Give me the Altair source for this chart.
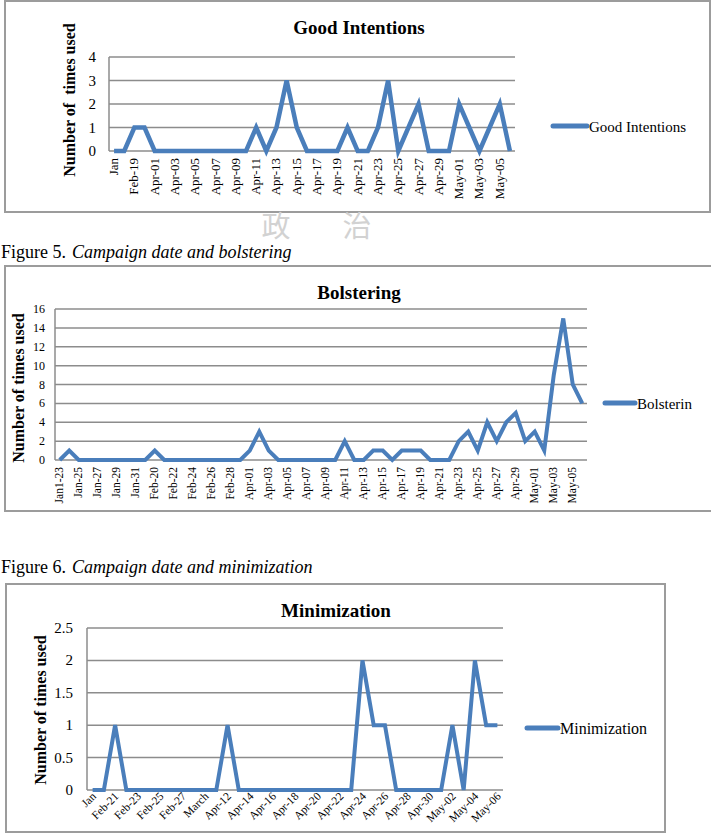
import altair as alt
import pandas as pd

# ---------------- data ----------------
gi_dates = (["Jan", "Feb-18", "Feb-19", "March"]
            + [f"Apr-{d:02d}" for d in range(1, 31)]
            + [f"May-{d:02d}" for d in range(1, 7)])
gi_counts = [0, 0, 1, 1, 0, 0, 0, 0, 0, 0,
             0, 0, 0, 0, 1, 0, 1, 3, 1, 0,
             0, 0, 0, 1, 0, 0, 1, 3, 0, 1,
             2, 0, 0, 0, 2, 1, 0, 1, 2, 0]
gi_ticks = [0, 1, 2, 3, 4]
gi_tick_text = ["0", "1", "2", "3", "4"]

bo_dates = (["Jan1-23"] + [f"Jan-{d}" for d in range(24, 32)]
            + [f"Feb-{d}" for d in range(19, 29)] + ["March"]
            + [f"Apr-{d:02d}" for d in range(1, 31)]
            + [f"May-{d:02d}" for d in range(1, 7)])
bo_counts = [0, 1, 0, 0, 0, 0, 0, 0, 0, 0,
             1, 0, 0, 0, 0, 0, 0, 0, 0, 0,
             1, 3, 1, 0, 0, 0, 0, 0, 0, 0,
             2, 0, 0, 1, 1, 0, 1, 1, 1, 0,
             0, 0, 2, 3, 1, 4, 2, 4, 5, 2,
             3, 1, 9, 15, 8, 6]
bo_ticks = [0, 2, 4, 6, 8, 10, 12, 14, 16]
bo_tick_text = ["0", "2", "4", "6", "8", "10", "12", "14", "16"]

mi_dates = (["Jan"] + [f"Feb-{d}" for d in range(20, 29)] + ["March"]
            + [f"Apr-{d:02d}" for d in range(11, 31)]
            + [f"May-{d:02d}" for d in range(1, 7)])
mi_counts = [0, 0, 1, 0, 0, 0, 0, 0, 0, 0,
             0, 0, 1, 0, 0, 0, 0, 0, 0, 0,
             0, 0, 0, 0, 2, 1, 1, 0, 0, 0,
             0, 0, 1, 0, 2, 1, 1]
mi_ticks = [0, 0.5, 1, 1.5, 2, 2.5]
mi_tick_text = ["0", "0.5", "1", "1.5", "2", "2.5"]

# ---------------- styling ----------------
FONT = "Liberation Serif"
BLUE = "#4a7ebb"
GRID = "#8c8c8c"
FRAME = "#9c9c9c"
one = pd.DataFrame({"k": [0]})


def text_at(txt, x, y, size, **kw):
    opts = dict(font=FONT, fontSize=size, color="black", align="center", baseline="middle")
    opts.update(kw)
    return alt.Chart(one).mark_text(text=txt, **opts).encode(x=alt.value(x), y=alt.value(y))


def panel(title, series, cats, vals, ticks, tick_text, lay):
    L, R, T, B = lay["plot"]
    xs = alt.Scale(domain=cats, range=[L, R])
    ys = alt.Scale(domain=[ticks[0], ticks[-1]], range=[B, T], nice=False, zero=False)
    line_df = pd.DataFrame({"date": cats, "n": vals})
    tick_df = pd.DataFrame({"v": ticks, "lab": tick_text})
    lab_df = pd.DataFrame({"date": cats[::2]})

    bx0, bx1, by0, by1 = lay["box"]
    frame = alt.Chart(one).mark_rect(fillOpacity=0, stroke=FRAME, strokeWidth=2).encode(
        x=alt.value(bx0), x2=alt.value(bx1), y=alt.value(by0), y2=alt.value(by1))

    grid = alt.Chart(tick_df).mark_rule(color=GRID, strokeWidth=1.5).encode(
        y=alt.Y("v:Q", scale=ys, axis=None), x=alt.value(L), x2=alt.value(R))
    yline = alt.Chart(one).mark_rule(color=GRID, strokeWidth=1.5).encode(
        x=alt.value(L), y=alt.value(T), y2=alt.value(B))
    ylab = alt.Chart(tick_df).mark_text(
        align="right", baseline="middle", font=FONT, fontSize=lay["ytick_size"], color="black"
    ).encode(y=alt.Y("v:Q", scale=ys, axis=None), x=alt.value(lay["ytick_x"]), text="lab:N")

    line = alt.Chart(line_df).mark_line(color=BLUE, strokeWidth=lay["lw"]).encode(
        x=alt.X("date:N", scale=xs, axis=None),
        y=alt.Y("n:Q", scale=ys, axis=None))

    xlab = alt.Chart(lab_df).mark_text(
        angle=lay["xangle"], align="right", baseline="middle", font=FONT,
        fontSize=lay["xtick_size"], color="black", dx=lay.get("xdx", 0)
    ).encode(x=alt.X("date:N", scale=xs, axis=None), y=alt.value(lay["xtick_y"]), text="date:N")

    tx, ty = lay["ytitle"]
    ytitle = text_at(lay["ytitle_text"], tx, ty, 16, fontWeight="bold", angle=270)
    cx, cy = lay["title"]
    ttl = text_at(title, cx, cy, 19, fontWeight="bold")

    lx0, lx1, ly = lay["legend"]
    leg_line = alt.Chart(one).mark_rule(color=BLUE, strokeWidth=5, strokeCap="round").encode(
        x=alt.value(lx0), x2=alt.value(lx1), y=alt.value(ly))
    leg_text = text_at(series, lx1 + 2, ly + 1, lay["legend_size"], align="left")

    return alt.layer(frame, grid, yline, ylab, line, xlab, ytitle, ttl, leg_line, leg_text)


p1 = panel("Good Intentions", "Good Intentions", gi_dates, gi_counts, gi_ticks, gi_tick_text, dict(
    plot=(109, 515, 57, 151), box=(5, 710, 1, 212), ytick_size=15, ytick_x=96,
    xtick_size=13, xtick_y=158, xangle=270, lw=4.5,
    ytitle=(70, 100), ytitle_text="Number of\u00a0 times used",
    title=(359, 28), legend=(553, 587, 126), legend_size=15))

p2 = panel("Bolstering", "Bolsterin", bo_dates, bo_counts, bo_ticks, bo_tick_text, dict(
    plot=(55, 587, 309, 460), box=(5, 712, 266, 511), ytick_size=12, ytick_x=45,
    xtick_size=11.5, xtick_y=467, xangle=270, lw=4,
    ytitle=(19, 388), ytitle_text="Number of times used",
    title=(359, 293), legend=(605, 635, 403), legend_size=15))

p3 = panel("Minimization", "Minimization", mi_dates, mi_counts, mi_ticks, mi_tick_text, dict(
    plot=(87, 503, 628, 790), box=(6, 665, 584, 832), ytick_size=15, ytick_x=73,
    xtick_size=11.5, xtick_y=797, xangle=315, xdx=3, lw=4,
    ytitle=(41, 710), ytitle_text="Number of times used",
    title=(336, 611), legend=(527, 558, 728), legend_size=16))

captions = alt.layer(
    text_at("Figure 5.", 1, 258, 18, align="left", baseline="alphabetic"),
    text_at("Campaign date and bolstering", 72, 258, 18, align="left",
            baseline="alphabetic", fontStyle="italic"),
    text_at("Figure 6.", 1, 573, 18, align="left", baseline="alphabetic"),
    text_at("Campaign date and minimization", 72, 573, 18, align="left",
            baseline="alphabetic", fontStyle="italic"),
)

# faint university seal printed over the page
seal = alt.layer(
    text_at("政", 276, 228, 29, font="Noto Sans CJK TC", color="#d2d2d2"),
    text_at("治", 357, 228, 29, font="Noto Sans CJK TC", color="#d2d2d2"),
)

chart = alt.layer(p1, p2, p3, captions, seal).resolve_scale(
    x="independent", y="independent"
).properties(
    width=711, height=837, padding=0,
    autosize=alt.AutoSizeParams(type="none"),
    background="white",
).configure_view(stroke=None)

chart.save("out.html", embed_options={"renderer": "svg", "actions": False})
